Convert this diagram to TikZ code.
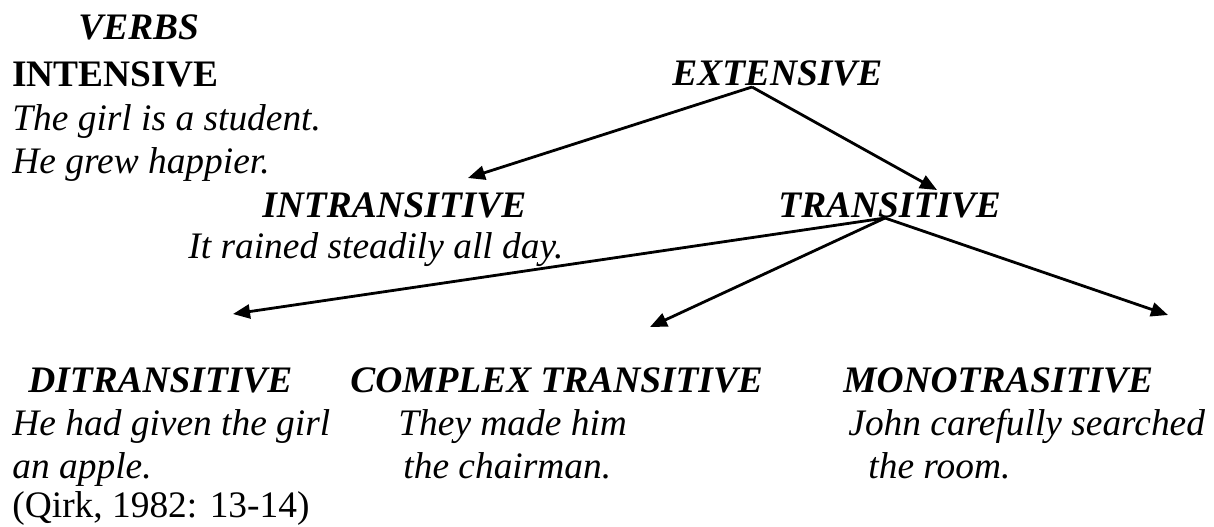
\documentclass[tikz,border=0pt]{standalone}
\usepackage{fontspec}
\setmainfont{Liberation Serif}
\usetikzlibrary{arrows.meta}

\begin{document}
\begin{tikzpicture}[
    x=0.5pt, y=-0.5pt,
    txt/.style={anchor=base west, inner sep=0pt,
                font=\fontsize{18.7}{22}\selectfont},
    head/.style={txt, font=\fontsize{18.7}{22}\selectfont\bfseries\itshape},
    plainhead/.style={txt, font=\fontsize{18.7}{22}\selectfont\bfseries},
    sample/.style={txt, font=\fontsize{18.7}{22}\selectfont\itshape},
    link/.style={black, line width=1.4pt,
                 -{Triangle[length=8.5pt, width=7pt]}}
]
\useasboundingbox (0,0) rectangle (1214,526);

% ---------- left column ----------
\node[head]      (verbs)   at (78,39)   {VERBS};
\node[plainhead] (intens)  at (12,86)   {INTENSIVE};
\node[sample]    (intA)    at (12,130)  {The girl is a student.};
\node[sample]    (intB)    at (12,173)  {He grew happier.};

% ---------- upper branches ----------
\node[head]   (ext)     at (672,85)  {EXTENSIVE};
\node[head]   (intrans) at (262,217) {INTRANSITIVE};
\node[head]   (trans)   at (778,217) {TRANSITIVE};
\node[sample] (intrA)   at (188,258) {It rained steadily all day.};

% ---------- lower branches ----------
\node[head]   (ditrans) at (28,392)  {DITRANSITIVE};
\node[head]   (complex) at (350,392) {COMPLEX TRANSITIVE};
\node[head]   (mono)    at (843,392) {MONOTRASITIVE};
\node[sample] (ditA)    at (12,435)  {He had given the girl};
\node[sample] (ditB)    at (12,478)  {an apple.};
\node[sample] (comA)    at (398,435) {They made him};
\node[sample] (comB)    at (403,478) {the chairman.};
\node[sample] (monA)    at (848,435) {John carefully searched};
\node[sample] (monB)    at (868,478) {the room.};
\node[txt]    (source)  at (12,517)  {(Qirk, 1982: 13-14)};

% ---------- arrow ends ----------
\coordinate (extfoot)   at (752,87);
\coordinate (transfoot) at (885,218);
\coordinate (intranstip) at (468,178);
\coordinate (transtip)   at (937,190);
\coordinate (dittip)     at (233,314);
\coordinate (comtip)     at (650,327);
\coordinate (montip)     at (1168,315);

% ---------- arrows ----------
\draw[link] (extfoot) -- (intranstip);
\draw[link] (extfoot) -- (transtip);
\draw[link] (transfoot) -- (dittip);
\draw[link] (transfoot) -- (comtip);
\draw[link] (transfoot) -- (montip);

\end{tikzpicture}
\end{document}
